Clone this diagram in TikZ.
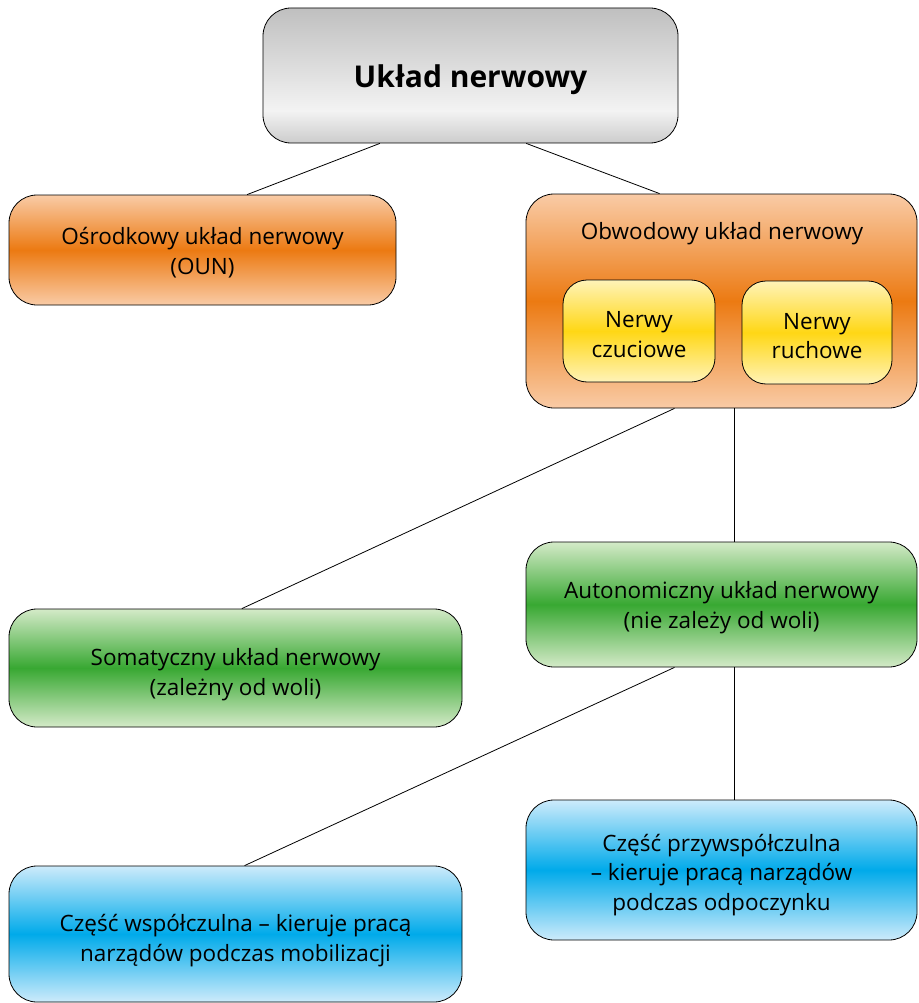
\documentclass[tikz,border=0pt]{standalone}
\usepackage{fontspec}
\setmainfont{Open Sans}
\usetikzlibrary{calc}
\newcommand{\txtshift}[1]{\rule{0pt}{#1pt}}
\definecolor{orL}{HTML}{F9CBA6}
\definecolor{orD}{HTML}{EC7A12}
\definecolor{yeL}{HTML}{FFF3B8}
\definecolor{yeD}{HTML}{FFD715}
\definecolor{grL}{HTML}{D4EAC8}
\definecolor{grD}{HTML}{38A832}
\definecolor{blL}{HTML}{CDEBFB}
\definecolor{blD}{HTML}{00AAEA}
\definecolor{gyA}{HTML}{BFBFBF}
\definecolor{gyB}{HTML}{F3F3F3}
\definecolor{gyC}{HTML}{CCCCCC}
\pgfdeclareverticalshading{grayshade}{100bp}{color(0bp)=(gyC); color(25bp)=(gyC); color(37bp)=(gyB); color(75bp)=(gyA); color(100bp)=(gyA)}
\tikzset{
  box/.style={draw=black, line width=0.8pt, rounded corners=28pt, align=center, inner sep=0pt,
    font=\fontsize{22.5}{29.5}\selectfont},
  orangebox/.style={box, top color=orL, bottom color=orL, middle color=orD},
  yellowbox/.style={box, rounded corners=24pt, top color=yeL, bottom color=yeL, middle color=yeD},
  greenbox/.style={box, top color=grL, bottom color=grL, middle color=grD},
  bluebox/.style={box, top color=blL, bottom color=blL, middle color=blD},
  link/.style={draw=black, line width=0.8pt}
}
\begin{document}
\begin{tikzpicture}[x=1pt,y=-1pt]
\useasboundingbox (0,0) rectangle (918,1003);
% boxes
\node[box, shading=grayshade, minimum width=415pt, minimum height=135pt,
  font=\fontsize{30}{36}\selectfont\bfseries] (top) at (470.5,75.5) {\txtshift{31}Układ nerwowy};
\node[orangebox, minimum width=387pt, minimum height=110pt] (oun) at (202.5,250)
  {\txtshift{23}Ośrodkowy układ nerwowy\\(OUN)};
\node[orangebox, minimum width=391pt, minimum height=214pt] (obw) at (721.5,301) {};
\node[font=\fontsize{22.5}{29.5}\selectfont] (obwt) at (722,234) {Obwodowy układ nerwowy};
\node[yellowbox, minimum width=152pt, minimum height=102pt] (czu) at (639,331)
  {\txtshift{23}Nerwy\\czuciowe};
\node[yellowbox, minimum width=150pt, minimum height=103pt] (ruch) at (817,332.5)
  {\txtshift{23}Nerwy\\ruchowe};
\node[greenbox, minimum width=453pt, minimum height=118pt] (som) at (235.5,668)
  {\txtshift{30}Somatyczny układ nerwowy\\(zależny od woli)};
\node[greenbox, minimum width=391pt, minimum height=125pt] (aut) at (721.5,604.5)
  {\txtshift{23}Autonomiczny układ nerwowy\\(nie zależy od woli)};
\node[bluebox, minimum width=391pt, minimum height=140pt] (prz) at (721.5,870)
  {\txtshift{27}Część przywspółczulna\\– kieruje pracą narządów\\podczas odpoczynku};
\node[bluebox, minimum width=453pt, minimum height=136pt] (wsp) at (235.5,934)
  {\txtshift{30}Część współczulna – kieruje pracą\\narządów podczas mobilizacji};
% attachment points
\coordinate (topL) at ($(top.south west)!0.282!(top.south east)$);
\coordinate (topR) at ($(top.south west)!0.634!(top.south east)$);
\coordinate (ounT) at ($(oun.north west)!0.615!(oun.north east)$);
\coordinate (obwT) at ($(obw.north west)!0.342!(obw.north east)$);
\coordinate (obwL) at ($(obw.south west)!0.38!(obw.south east)$);
\coordinate (obwR) at ($(obw.south west)!0.534!(obw.south east)$);
\coordinate (somT) at ($(som.north west)!0.514!(som.north east)$);
\coordinate (autT) at ($(aut.north west)!0.534!(aut.north east)$);
\coordinate (autL) at ($(aut.south west)!0.38!(aut.south east)$);
\coordinate (autR) at ($(aut.south west)!0.534!(aut.south east)$);
\coordinate (wspT) at ($(wsp.north west)!0.52!(wsp.north east)$);
\coordinate (przT) at ($(prz.north west)!0.534!(prz.north east)$);
% connectors
\draw[link] (topL) -- (ounT);
\draw[link] (topR) -- (obwT);
\draw[link] (obwL) -- (somT);
\draw[link] (obwR) -- (autT);
\draw[link] (autL) -- (wspT);
\draw[link] (autR) -- (przT);
\end{tikzpicture}
\end{document}
